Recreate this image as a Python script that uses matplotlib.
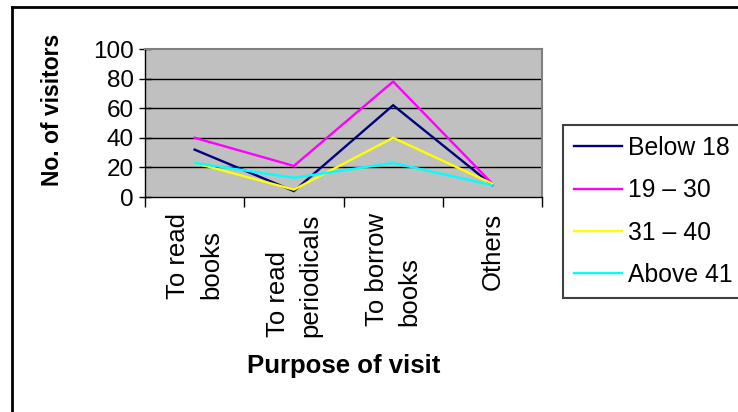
import matplotlib
matplotlib.use("Agg")
import matplotlib.pyplot as plt
from matplotlib.lines import Line2D
import numpy as np

plt.rcParams['font.family'] = ['Liberation Sans', 'DejaVu Sans']

categories = ["To read\nbooks", "To read\nperiodicals", "To borrow\nbooks", "Others"]
series_names = ["Below 18", "19 \u2013 30", "31 \u2013 40", "Above 41"]
below_18 = [32, 4, 62, 8]
age_19_30 = [40, 21, 78, 9]
age_31_40 = [23, 5, 40, 9]
above_41 = [23, 13, 23, 8]
series = [below_18, age_19_30, age_31_40, above_41]
colors = ["#000080", "#FF00FF", "#FFFF00", "#00FFFF"]
yticks = [0, 20, 40, 60, 80, 100]

W, H = 738, 412
fig = plt.figure(figsize=(W / 100, H / 100), dpi=100)
fig.patch.set_facecolor("white")

l, r, t, b = 145, 542, 49, 197
ax = fig.add_axes([l / W, 1 - b / H, (r - l) / W, (b - t) / H])
ax.set_facecolor("#C0C0C0")

x = np.arange(len(categories)) + 0.5
for vals, name, c in zip(series, series_names, colors):
    ax.plot(x, vals, color=c, lw=1.7, label=name, solid_joinstyle="miter", zorder=3)

ax.set_xlim(0, len(categories))
ax.set_ylim(0, 100)
ax.set_yticks(yticks)
ax.set_yticklabels([str(v) for v in yticks], fontsize=17.5)
ax.set_xticks(np.arange(len(categories) + 1))
ax.set_xticklabels([])
for xi, lab in zip(x, categories):
    ax.text(xi, -0.11, lab, transform=ax.get_xaxis_transform(), rotation=90,
            ha="center", va="top", multialignment="left", fontsize=18.5,
            linespacing=1.45)

for v in yticks[1:-1]:
    ax.axhline(v, color="black", lw=1.0, zorder=1)

for s in ["top", "right"]:
    ax.spines[s].set_color("#808080")
    ax.spines[s].set_linewidth(1.5)
for s in ["left", "bottom"]:
    ax.spines[s].set_color("black")
    ax.spines[s].set_linewidth(1.0)

ax.tick_params(axis="y", direction="inout", length=8, width=1, pad=4)
ax.tick_params(axis="x", direction="out", length=7, width=1)

fig.text(53 / W, 1 - 110 / H, "No. of visitors", rotation=90, ha="center", va="center",
         fontsize=16.5, fontweight="bold")
fig.text(344 / W, 1 - 366 / H, "Purpose of visit", ha="center", va="center",
         fontsize=18.5, fontweight="bold")

leg = fig.legend(loc="upper left", bbox_to_anchor=(563 / W, 1 - 125 / H),
                 bbox_transform=fig.transFigure, borderaxespad=0, fontsize=17.8,
                 handlelength=1.95, handletextpad=0.22, labelspacing=0.74,
                 borderpad=0.45, fancybox=False, framealpha=1)
leg.get_frame().set_edgecolor("#404040")
leg.get_frame().set_linewidth(1.5)
for h in leg.get_lines():
    h.set_linewidth(1.7)

# outer chart frame
fig.add_artist(Line2D([11.5 / W, 11.5 / W], [0, 1 - 7 / H], transform=fig.transFigure,
                      color="black", lw=2))
fig.add_artist(Line2D([11.5 / W, 1], [1 - 7 / H, 1 - 7 / H], transform=fig.transFigure,
                      color="black", lw=2))

fig.savefig("out.png", dpi=100)
